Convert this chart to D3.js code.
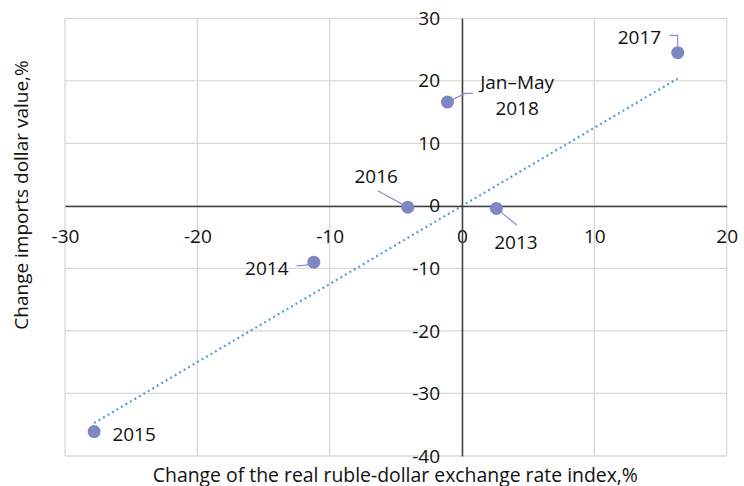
<!DOCTYPE html>
<html>
<head>
<meta charset="utf-8">
<script src="https://cdn.jsdelivr.net/npm/d3@7"></script>
<style>
  body { margin: 0; background: #fff; }
  svg text { font-family: "Open Sans", "Noto Sans", sans-serif; fill: #111; }
</style>
</head>
<body>
<div id="app"></div>
<script>
// data
var years = ["2013", "2014", "2015", "2016", "2017", "Jan–May 2018"];
var rateChange = [2.6, -11.2, -27.8, -4.1, 16.3, -1.1];
var importsChange = [-0.4, -9.0, -36.1, -0.2, 24.5, 16.6];
var xTicks = [-30, -20, -10, 0, 10, 20];
var yTicks = [-40, -30, -20, -10, 0, 10, 20, 30];

// label placement, offsets from the point in px
var labelLayout = {
  "2013": { lines: ["2013"], dx: 19.5, dy: 33.5, leader: [[0, 0], [20.4, 16.7]] },
  "2014": { lines: ["2014"], dx: -47, dy: 6, leader: [[-17.3, 3.7], [-8, 3], [0, 0]] },
  "2015": { lines: ["2015"], dx: 40, dy: 2.5, leader: null },
  "2016": { lines: ["2016"], dx: -31.6, dy: -31, leader: [[-30, -16.3], [0, 0]] },
  "2017": { lines: ["2017"], dx: -38.3, dy: -15, leader: [[-8, -17.3], [0, -17.3], [0, -4]] },
  "Jan–May 2018": { lines: ["Jan–May", "2018"], dx: 69.7, dy: -20, leader: [[0, 0], [17.7, -8.7], [25.4, -8.7]] }
};

var width = 744, height = 486;
var plotLeft = 65, plotRight = 726.7, plotTop = 18.3, plotBottom = 456;

var points = years.map(function (y, i) {
  return { year: y, x: rateChange[i], y: importsChange[i] };
});

var x = d3.scaleLinear().domain([-30, 20]).range([plotLeft, plotRight]);
var y = d3.scaleLinear().domain([-40, 30]).range([plotBottom, plotTop]);

var svg = d3.select("#app").append("svg")
    .attr("width", width)
    .attr("height", height);

// grid
svg.append("g").selectAll("line")
    .data(xTicks)
  .enter().append("line")
    .attr("x1", function (d) { return x(d); })
    .attr("x2", function (d) { return x(d); })
    .attr("y1", plotTop)
    .attr("y2", plotBottom)
    .attr("stroke", "#d9d9d9")
    .attr("stroke-width", 1.3);

svg.append("g").selectAll("line")
    .data(yTicks)
  .enter().append("line")
    .attr("x1", plotLeft)
    .attr("x2", plotRight)
    .attr("y1", function (d) { return y(d); })
    .attr("y2", function (d) { return y(d); })
    .attr("stroke", "#d9d9d9")
    .attr("stroke-width", 1.3);

// trendline, least squares through the origin (as the Excel one is)
var sxy = d3.sum(points, function (d) { return d.x * d.y; });
var sxx = d3.sum(points, function (d) { return d.x * d.x; });
var slope = sxy / sxx;
var xExt = d3.extent(points, function (d) { return d.x; });

svg.append("line")
    .attr("x1", x(xExt[0]))
    .attr("y1", y(slope * xExt[0]))
    .attr("x2", x(xExt[1]))
    .attr("y2", y(slope * xExt[1]))
    .attr("stroke", "#5b9bd5")
    .attr("stroke-width", 2.2)
    .attr("stroke-dasharray", "2,3.2");

// axes crossing at zero
var plain = function (d) { return String(d); };

var xAxis = svg.append("g")
    .attr("transform", "translate(0," + y(0) + ")")
    .call(d3.axisBottom(x).tickValues(xTicks).tickFormat(plain)
      .tickSize(0).tickSizeOuter(0).tickPadding(23.5));

var yAxis = svg.append("g")
    .attr("transform", "translate(" + x(0) + ",0)")
    .call(d3.axisLeft(y).tickValues(yTicks).tickFormat(plain)
      .tickSize(0).tickSizeOuter(0).tickPadding(22));

[xAxis, yAxis].forEach(function (g) {
  g.select(".domain").attr("stroke", "#404040").attr("stroke-width", 1.5);
  g.selectAll("text").style("font-size", "19px").attr("fill", "#111");
});

// leader lines
var line = d3.line();
svg.append("g").selectAll("path")
    .data(points.filter(function (d) { return labelLayout[d.year].leader; }))
  .enter().append("path")
    .attr("d", function (d) {
      var px = x(d.x), py = y(d.y);
      return line(labelLayout[d.year].leader.map(function (p) { return [px + p[0], py + p[1]]; }));
    })
    .attr("fill", "none")
    .attr("stroke", "#8a8fc9")
    .attr("stroke-width", 1.2);

// points
svg.append("g").selectAll("circle")
    .data(points)
  .enter().append("circle")
    .attr("cx", function (d) { return x(d.x); })
    .attr("cy", function (d) { return y(d.y); })
    .attr("r", 6.5)
    .attr("fill", "#7f86c4");

// data labels
var labels = svg.append("g").selectAll("text")
    .data(points)
  .enter().append("text")
    .attr("text-anchor", "middle")
    .style("font-size", "19px")
    .attr("x", function (d) { return x(d.x) + labelLayout[d.year].dx; })
    .attr("y", function (d) { return y(d.y) + labelLayout[d.year].dy; });

labels.selectAll("tspan")
    .data(function (d) {
      var L = labelLayout[d.year];
      return L.lines.map(function (t, i) { return { t: t, x: x(d.x) + L.dx, i: i }; });
    })
  .enter().append("tspan")
    .attr("x", function (d) { return d.x; })
    .attr("dy", function (d) { return d.i === 0 ? "0.35em" : "26px"; })
    .text(function (d) { return d.t; });

// axis titles
svg.append("text")
    .attr("x", (plotLeft + plotRight) / 2 - 0.5)
    .attr("y", 475)
    .attr("dy", "0.35em")
    .attr("text-anchor", "middle")
    .style("font-size", "19.4px")
    .text("Change of the real ruble-dollar exchange rate index,%");

svg.append("text")
    .attr("transform", "translate(21.5,195) rotate(-90)")
    .attr("dy", "0.35em")
    .attr("text-anchor", "middle")
    .style("font-size", "19px")
    .text("Change imports dollar value,%");
</script>
</body>
</html>
